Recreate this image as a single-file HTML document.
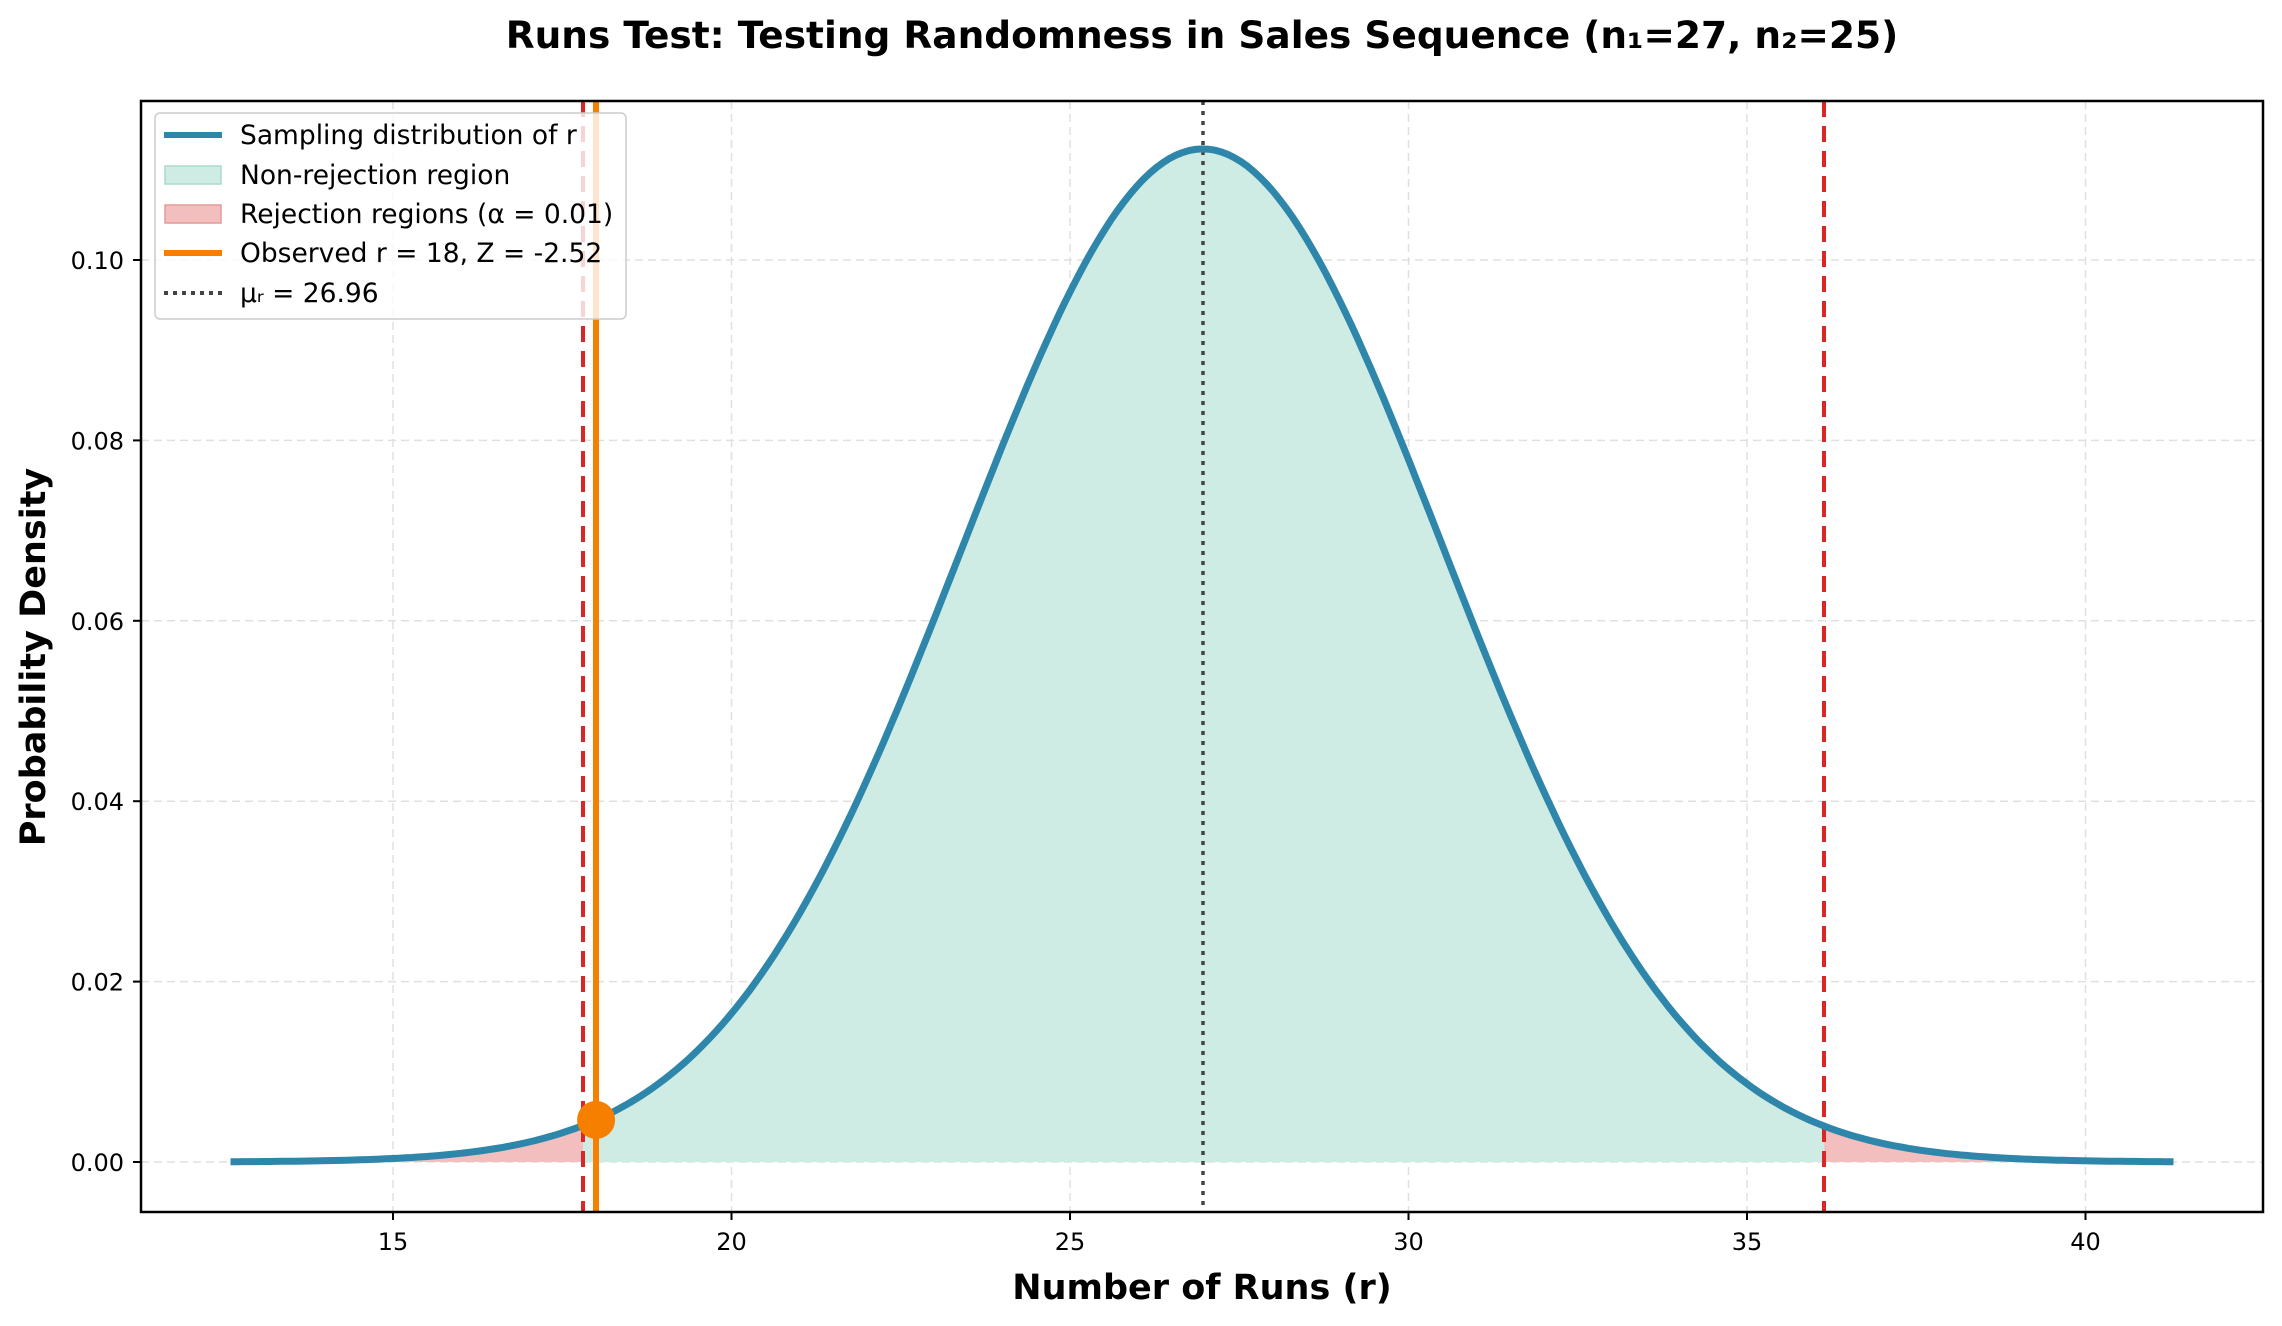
<!DOCTYPE html>
<html><head><meta charset="utf-8"><style>
html,body{margin:0;padding:0;background:#fff}
svg text{font-family:"DejaVu Sans","Liberation Sans",sans-serif}
</style></head><body>
<svg id="s" width="2282" height="1321" xmlns="http://www.w3.org/2000/svg">
<rect width="2282" height="1321" fill="#fff"/>
<text x="1202" y="48" text-anchor="middle" font-size="37.5" font-weight="bold">Runs Test: Testing Randomness in Sales Sequence (n₁=27, n₂=25)</text>
<g id="grid" stroke="#e0e0e0" stroke-width="1.5" stroke-dasharray="8,5"></g>
<path id="fillG" fill="#cfece4"/>
<path id="fillL" fill="#f2bebe"/>
<path id="fillR" fill="#f2bebe"/>
<line x1="1203" y1="101" x2="1203" y2="1212" stroke="#444" stroke-width="3.5" stroke-dasharray="4,6"/>
<line x1="583" y1="101" x2="583" y2="1212" stroke="#dc2626" stroke-width="4" stroke-dasharray="16,9"/>
<line x1="1824" y1="101" x2="1824" y2="1212" stroke="#dc2626" stroke-width="4" stroke-dasharray="16,9"/>
<path id="curve" fill="none" stroke="#2e86ab" stroke-width="7"/>
<line x1="596" y1="101" x2="596" y2="1212" stroke="#f77f00" stroke-width="6"/>
<circle id="dot" r="19" fill="#f77f00"/>
<rect x="141" y="101" width="2122" height="1111" fill="none" stroke="#000" stroke-width="2.5"/>
<g id="ticks" font-size="24"></g>
<text x="1202" y="1299" text-anchor="middle" font-size="35" font-weight="bold">Number of Runs (r)</text>
<text transform="translate(45,657) rotate(-90)" text-anchor="middle" font-size="35" font-weight="bold">Probability Density</text>
<g>
<rect x="155" y="113" width="471" height="206" rx="5" fill="#fff" fill-opacity="0.8" stroke="#ccc" stroke-width="1.5"/>
<line x1="164" y1="135" x2="222" y2="135" stroke="#2e86ab" stroke-width="6"/>
<rect x="165" y="166" width="56" height="18" fill="#cfece4" stroke="#a8dccd" stroke-width="1.5"/>
<rect x="165" y="205" width="56" height="18" fill="#f2bebe" stroke="#e59a9a" stroke-width="1.5"/>
<line x1="164" y1="253" x2="222" y2="253" stroke="#f77f00" stroke-width="6"/>
<line x1="164" y1="293" x2="222" y2="293" stroke="#444" stroke-width="4" stroke-dasharray="4,5"/>
<g font-size="26.5">
<text x="240" y="144">Sampling distribution of r</text>
<text x="240" y="184">Non-rejection region</text>
<text x="240" y="223">Rejection regions (α = 0.01)</text>
<text x="240" y="262">Observed r = 18, Z = -2.52</text>
<text x="240" y="302">μᵣ = 26.96</text>
</g></g>
</svg>
<script>
var X=function(v){return 393+(v-15)*67.7},Y=function(d){return 1162-d*9020};
var mu=26.96,sd=3.552,pdf=function(x){return Math.exp(-0.5*Math.pow((x-mu)/sd,2))/(sd*Math.sqrt(2*Math.PI))};
function pts(a,b){var s="",n=300;for(var i=0;i<=n;i++){var x=a+(b-a)*i/n;s+=(i?"L":"M")+X(x).toFixed(1)+","+Y(pdf(x)).toFixed(1)}return s}
function area(a,b){return pts(a,b)+"L"+X(b)+","+Y(0)+"L"+X(a)+","+Y(0)+"Z"}
var lo=17.81,hi=36.14;
document.getElementById("curve").setAttribute("d",pts(12.6,41.3));
document.getElementById("fillG").setAttribute("d",area(lo,hi));
document.getElementById("fillL").setAttribute("d",area(12.6,lo));
document.getElementById("fillR").setAttribute("d",area(hi,41.3));
var d=document.getElementById("dot");d.setAttribute("cx",X(18));d.setAttribute("cy",Y(pdf(18)));
var g=document.getElementById("grid"),t=document.getElementById("ticks"),h="",k="";
for(var v=15;v<=40;v+=5){var x=X(v);h+='<line x1="'+x+'" y1="101" x2="'+x+'" y2="1212"/>';k+='<line x1="'+x+'" y1="1212" x2="'+x+'" y2="1220" stroke="#000" stroke-width="2"/><text x="'+x+'" y="1250" text-anchor="middle">'+v+'</text>';}
for(var i=0;i<=5;i++){var y=Y(i*0.02);h+='<line x1="141" y1="'+y+'" x2="2263" y2="'+y+'"/>';k+='<line x1="133" y1="'+y+'" x2="141" y2="'+y+'" stroke="#000" stroke-width="2"/><text x="124" y="'+(y+9)+'" text-anchor="end">'+(i*0.02).toFixed(2)+'</text>';}
g.innerHTML=h;t.innerHTML=k;
</script>
</body></html>
